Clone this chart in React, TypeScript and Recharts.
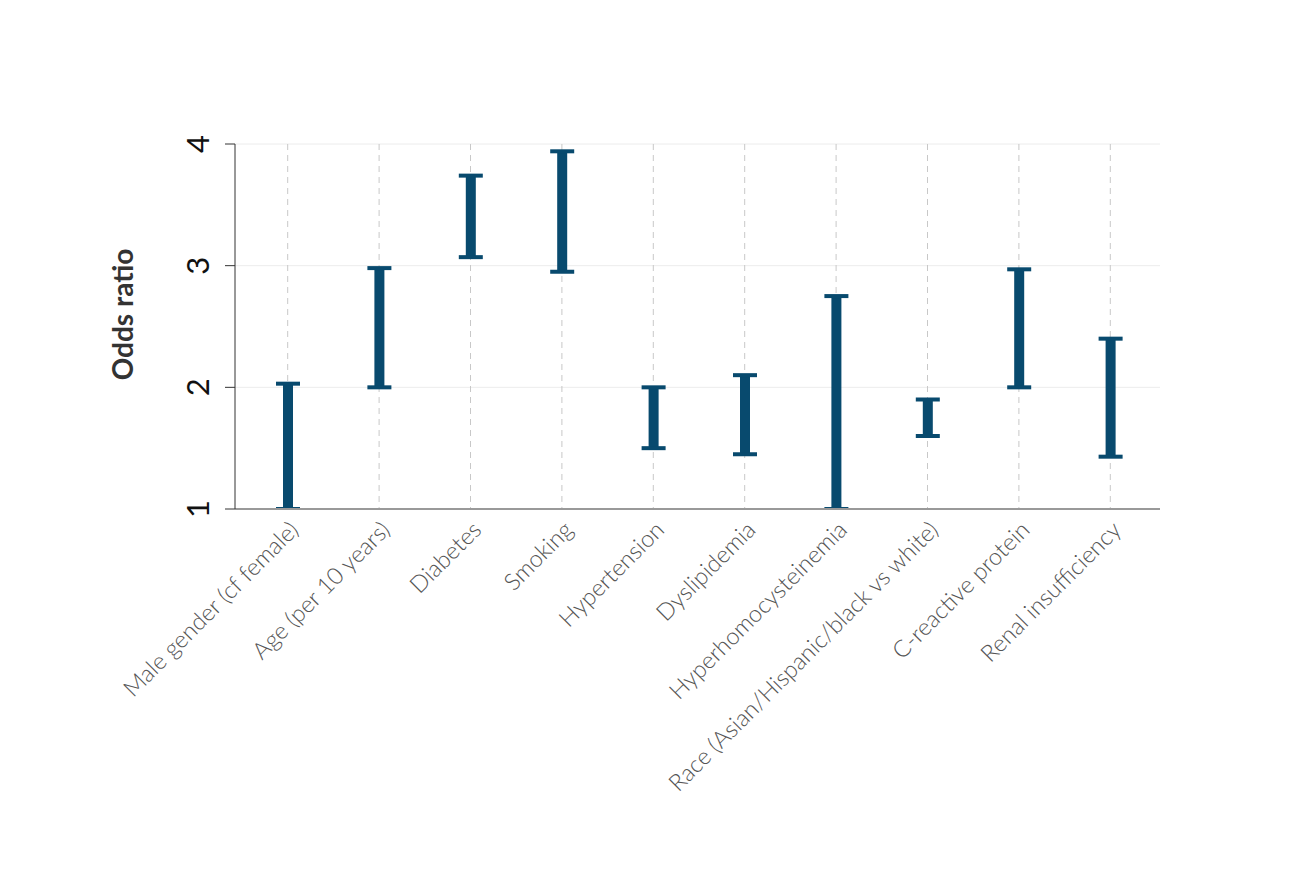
import { Bar, BarChart, CartesianGrid, XAxis, YAxis } from "recharts"

// Odds ratio ranges per risk factor
const factors = [
  "Male gender (cf female)",
  "Age (per 10 years)",
  "Diabetes",
  "Smoking",
  "Hypertension",
  "Dyslipidemia",
  "Hyperhomocysteinemia",
  "Race (Asian/Hispanic/black vs white)",
  "C-reactive protein",
  "Renal insufficiency",
]
const lowerOR = [1.0, 2.0, 3.07, 2.95, 1.5, 1.45, 1.0, 1.6, 2.0, 1.43]
const upperOR = [2.03, 2.98, 3.74, 3.94, 2.0, 2.1, 2.75, 1.9, 2.97, 2.4]
const yTicks = [1, 2, 3, 4]

const data = factors.map((name, i) => ({ name, range: [lowerOR[i], upperOR[i]] }))

const BAR_COLOR = "#084a6e"
const FONT = "Lato, 'Open Sans', sans-serif"
const X_PAD = { left: 7, right: 4 }

function ErrorBarShape(props: any) {
  const { x, y, width, height } = props
  const cx = x + width / 2
  const stem = 10
  const cap = 4
  return (
    <g fill={BAR_COLOR}>
      <rect x={cx - stem / 2} y={y} width={stem} height={height} />
      <rect x={x} y={y - cap / 2} width={width} height={cap} />
      <rect x={x} y={y + height - cap / 2} width={width} height={cap} />
    </g>
  )
}

function XTick({ x, y, payload }: any) {
  return (
    <text
      transform={`translate(${x + 6},${y + 8}) rotate(-45)`}
      textAnchor="end"
      dominantBaseline="central"
      fontFamily={FONT}
      fontWeight={300}
      fontSize={23.5}
      fill="#555"
    >
      {payload.value}
    </text>
  )
}

function YTick({ x, y, payload }: any) {
  return (
    <text
      transform={`translate(${x - 14},${y}) rotate(-90)`}
      textAnchor="middle"
      fontFamily={FONT}
      fontSize={31}
      fill="#111"
    >
      {payload.value}
    </text>
  )
}

function YLabel({ viewBox }: any) {
  const cx = viewBox.x + viewBox.width - 113
  const cy = viewBox.y + viewBox.height / 2 - 12
  return (
    <text
      transform={`translate(${cx},${cy}) rotate(-90)`}
      textAnchor="middle"
      dominantBaseline="central"
      fontFamily={FONT}
      fontWeight={700}
      fontSize={28}
      fill="#333"
    >
      Odds ratio
    </text>
  )
}

// dashed guides only at category centres (band scale)
function verticalLines({ offset }: any) {
  const band = (offset.width - X_PAD.left - X_PAD.right) / factors.length
  return factors.map((_, i) => offset.left + X_PAD.left + band * (i + 0.5))
}

export default function App() {
  return (
    <div style={{ position: "absolute", left: 0, top: 0, width: 1290, height: 878, background: "#fff" }}>
      <BarChart
        width={1290}
        height={878}
        data={data}
        barSize={24}
        margin={{ top: 144, right: 130, bottom: 69, left: 175 }}
      >
        <CartesianGrid vertical={false} stroke="#ececec" />
        <CartesianGrid
          horizontal={false}
          stroke="#c8c8c8"
          strokeDasharray="6 5"
          verticalCoordinatesGenerator={verticalLines}
        />
        <XAxis
          dataKey="name"
          interval={0}
          height={300}
          padding={X_PAD}
          tickLine={false}
          axisLine={{ stroke: "#999", strokeWidth: 2 }}
          tick={<XTick />}
        />
        <YAxis
          type="number"
          domain={[1, 4]}
          ticks={yTicks}
          width={60}
          allowDataOverflow
          tickSize={10}
          tickLine={{ stroke: "#333" }}
          axisLine={{ stroke: "#333" }}
          tick={<YTick />}
          label={<YLabel />}
        />
        <Bar dataKey="range" shape={<ErrorBarShape />} isAnimationActive={false} />
      </BarChart>
    </div>
  )
}
